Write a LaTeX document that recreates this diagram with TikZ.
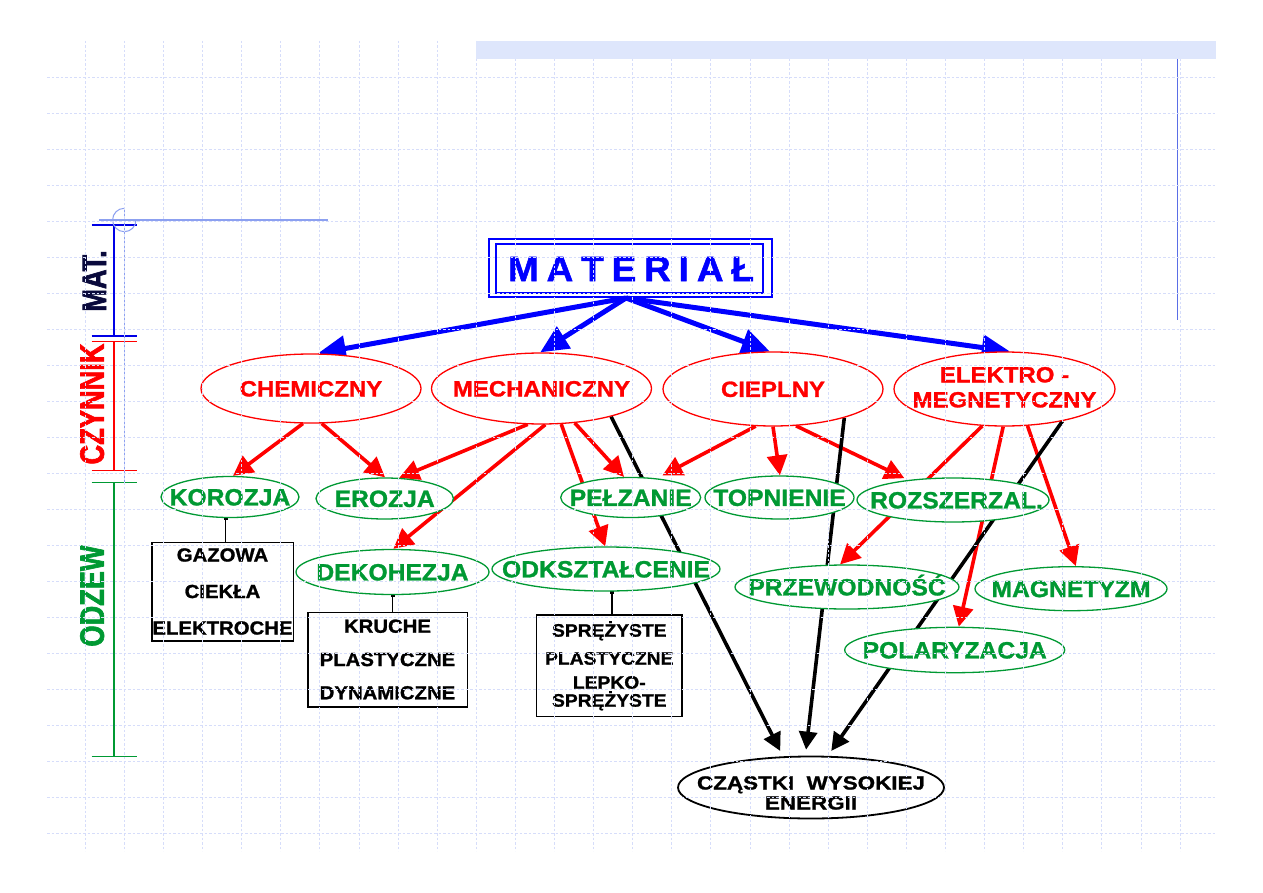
\documentclass[tikz,border=0pt]{standalone}
\usepackage{fontspec}
\setmainfont{Liberation Sans}
\newfontfamily\fRed{Liberation Sans}[FakeStretch=1.09,FakeBold=1.2]
\newfontfamily\fGreen{Liberation Sans}[FakeStretch=1.05,FakeBold=1.2]
\newfontfamily\fBox{Liberation Sans}[FakeStretch=1.07,FakeBold=1.2]
\newfontfamily\fCond{Liberation Sans}[FakeStretch=0.8,FakeBold=1.8]
\newfontfamily\fTitle{Liberation Sans}[FakeStretch=1.05,FakeBold=1.5]
\newfontfamily\fWide{Liberation Sans}[FakeStretch=1.18,FakeBold=1.2]
\usetikzlibrary{arrows.meta,shapes.geometric}
\pgfdeclarelayer{bg}
\pgfdeclarelayer{fg}
\pgfsetlayers{bg,main,fg}
\definecolor{gridc}{RGB}{214,221,250}
\definecolor{bandc}{RGB}{222,230,252}
\definecolor{myred}{RGB}{255,0,0}
\definecolor{mygreen}{RGB}{0,153,51}
\definecolor{myblue}{RGB}{0,0,255}
\definecolor{axblue}{RGB}{0,0,230}
\definecolor{lblue}{RGB}{140,160,240}
\definecolor{rblue}{RGB}{90,110,230}
\definecolor{navy}{RGB}{10,10,60}
\begin{document}
\begin{tikzpicture}[x=1pt,y=-1pt,
  redell/.style={ellipse, draw=myred, line width=1.3pt, fill=white, inner sep=0pt, text=myred,
    font=\fRed\bfseries\fontsize{22}{24}\selectfont, text height=15.75pt, text depth=0pt},
  redtxt/.style={inner sep=0pt, text=myred, font=\fRed\bfseries\fontsize{22}{24}\selectfont, text height=15.75pt, text depth=0pt},
  greenell/.style={ellipse, draw=mygreen, line width=1.3pt, fill=white, inner sep=0pt, text=mygreen,
    font=\fGreen\bfseries\fontsize{23.5}{25}\selectfont, text height=16.8pt, text depth=0pt},
  blkell/.style={ellipse, draw=black, line width=1.8pt, fill=white, inner sep=0pt},
  cztxt/.style={inner sep=0pt, text=black, font=\fWide\bfseries\fontsize{19}{20}\selectfont, text height=13.6pt, text depth=0pt},
  boxn/.style={rectangle, draw=black, line width=1.6pt, inner sep=0pt, align=center,
    font=\fBox\bfseries\fontsize{19}{36.5}\selectfont},
  sidelbl/.style={rotate=90, inner sep=0pt, font=\fCond\bfseries\fontsize{34}{34}\selectfont, text height=24.3pt, text depth=0pt},
  bluearr/.style={draw=myblue, line width=5pt, -{Triangle[length=28pt,width=25pt]}},
  redarr/.style={draw=myred, line width=3.6pt, -{Triangle[length=20pt,width=20pt]}},
  blkarr/.style={draw=black, line width=3.6pt, shorten >=6pt, -{Triangle[length=18pt,width=18pt]}},
  conn/.style={draw=black, line width=1.2pt},
  gridline/.style={draw=gridc, line width=0.9pt, dash pattern=on 2.5pt off 2pt},
  axline/.style={line width=1.5pt}
]
\useasboundingbox (0,0) rectangle (1263,893);

% ---------- title ----------
\node[rectangle, draw=myblue, line width=1.5pt, minimum width=283pt, minimum height=58pt, inner sep=0pt] (mat) at (630.5,268) {};
\node[rectangle, draw=myblue, line width=1.5pt, minimum width=267pt, minimum height=49pt, inner sep=0pt,
  text=myblue, font=\fTitle\bfseries\fontsize{35}{38}\selectfont, text height=25pt, text depth=0pt] (matIn) at (629.5,268.5)
  {\makebox[0pt]{\kern3pt M\kern8pt A\kern8pt T\kern8pt E\kern8pt R\kern8pt I\kern8pt A\kern8pt Ł}};
\coordinate (mo) at (626,298);

% ---------- factors ----------
\node[redell, minimum width=220pt, minimum height=69pt] (chem) at (311,388.5) {\makebox[0pt]{CHEMICZNY}};
\node[redell, minimum width=220pt, minimum height=71pt] (mech) at (541.5,388.5) {\makebox[0pt]{MECHANICZNY}};
\node[redell, minimum width=220pt, minimum height=74pt] (ciep) at (773,389) {\makebox[0pt]{CIEPLNY}};
\node[redell, minimum width=221pt, minimum height=74pt] (elek) at (1004.5,389) {};
\node[redtxt, yshift=14.5pt] (elekA) at (elek) {ELEKTRO -};
\node[redtxt, yshift=-10.5pt] (elekB) at (elek) {MEGNETYCZNY};

% ---------- responses ----------
\node[greenell, minimum width=138pt, minimum height=41pt] (koro) at (230,497) {\makebox[0pt]{KOROZJA}};
\node[greenell, minimum width=137.4pt, minimum height=41pt] (eroz) at (384.7,498.5) {\makebox[0pt]{EROZJA}};
\node[greenell, minimum width=193pt, minimum height=45pt] (deko) at (392.5,572) {\makebox[0pt]{DEKOHEZJA}};
\node[greenell, minimum width=140pt, minimum height=40pt] (pelz) at (630.7,497.5) {\makebox[0pt]{PEŁZANIE}};
\node[greenell, minimum width=228pt, minimum height=44pt] (odks) at (606,569) {\makebox[0pt]{ODKSZTAŁCENIE}};
\node[greenell, minimum width=149pt, minimum height=43pt] (topn) at (779.5,497.5) {\makebox[0pt]{TOPNIENIE}};
\node[greenell, minimum width=192pt, minimum height=44pt] (rozs) at (953,500) {\makebox[0pt]{\kern7pt ROZSZERZAL.}};
\node[greenell, minimum width=224pt, minimum height=44pt] (przew) at (847,587) {\makebox[0pt]{PRZEWODNOŚĆ}};
\node[greenell, minimum width=192pt, minimum height=44pt] (magn) at (1071,588.7) {\makebox[0pt]{MAGNETYZM}};
\node[greenell, minimum width=220pt, minimum height=45.4pt] (pola) at (954.7,650) {\makebox[0pt]{POLARYZACJA}};

\node[blkell, minimum width=266pt, minimum height=62pt] (cz) at (811,787.5) {};
\node[cztxt, yshift=4.8pt] (czA) at (cz) {CZĄSTKI~~WYSOKIEJ};
\node[cztxt, yshift=-15.2pt] (czB) at (cz) {ENERGII};

% ---------- boxes ----------
\node[boxn, minimum width=141.6pt, minimum height=98.4pt] (gbox) at (222.5,591.5) {GAZOWA\\CIEKŁA\\ELEKTROCHE};
\node[boxn, minimum width=159.6pt, minimum height=94.4pt, font=\fBox\bfseries\fontsize{19}{33.3}\selectfont] (kbox) at (387.5,659.5) {KRUCHE\\PLASTYCZNE\\DYNAMICZNE};
\node[boxn, minimum width=145.3pt, minimum height=101.7pt, font=\fBox\bfseries\fontsize{18}{24}\selectfont] (sbox) at (609.3,665.8) {SPRĘŻYSTE\\[4pt]PLASTYCZNE\\LEPKO-\\[-6pt]SPRĘŻYSTE};

% ---------- left axis ----------
\draw[axblue, axline] (114,225) -- (114,336);
\draw[axblue, axline] (91.7,225) -- (136.7,225);
\draw[axblue, axline] (91.7,336) -- (136.7,336);
\draw[myred, axline] (114,341.7) -- (114,470.7);
\draw[myred, axline] (91.7,341.7) -- (136.7,341.7);
\draw[myred, axline] (91.7,470.7) -- (136.7,470.7);
\draw[mygreen, axline] (114,482.7) -- (114,756.7);
\draw[mygreen, axline] (91.7,482.7) -- (136.7,482.7);
\draw[mygreen, axline] (91.7,756.7) -- (136.7,756.7);
\node[sidelbl, text=navy] (labM) at (94,281) {MAT.};
\node[sidelbl, text=myred] (labC) at (91.7,404) {CZYNNIK};
\node[sidelbl, text=mygreen] (labO) at (91.7,596) {ODZEW};

% decorative crosshair
\draw[lblue, line width=2.5pt] (99,220) -- (328,220);
\draw[lblue, line width=1pt] (124.3,208) -- (124.3,482);
\draw[lblue, line width=1pt] (136,220) arc[start angle=0, end angle=270, radius=11.7];
\draw[rblue, line width=1pt] (1177,41) -- (1177,320);

% ---------- connectors (behind nodes) ----------
\begin{pgfonlayer}{bg}
\fill[white] (0,0) rectangle (1263,893);
\draw[bluearr] (mo) -- (chem.79);
\draw[bluearr] (mo) -- (mech.92);
\draw[bluearr] (mo) -- (ciep.95);
\draw[bluearr] (mo) -- (elek.82);

\draw[redarr] (chem.257) -- (koro.82);
\draw[redarr] (chem.287) -- (eroz.89);
\draw[redarr] (mech.249) -- (eroz.55);
\draw[redarr] (mech.276) -- (deko.88);
\draw[redarr] (mech.314) -- (pelz.108);
\draw[redarr] (mech.299) -- (odks.92);
\draw[redarr, shorten >=6pt] (ciep.245) -- (pelz.36);
\draw[redarr] (ciep.270) -- (topn.89);
\draw[redarr, shorten >=4pt] (ciep.302) -- (rozs.156);
\draw[redarr] (elek.239) -- (przew.107);
\draw[redarr] (elek.268) -- (pola.80);
\draw[redarr] (elek.302) -- (magn.78);

\draw[blkarr] (mech.338) -- (cz.132);
\draw[blkarr] (ciep.338) -- (cz.100);
\draw[blkarr] (elek.331) -- (cz.62);

\draw[conn] (koro.258) -- (koro.258 |- gbox.north);
\fill (koro.258) ++(-2,-2) rectangle ++(4,4);
\draw[conn] (deko.south) -- (deko.south |- kbox.north);
\fill (deko.south) ++(-2,-2) rectangle ++(4,4);
\draw[conn] (odks.285) -- (odks.285 |- sbox.north);
\fill (odks.285) ++(-2,-2) rectangle ++(4,4);
\end{pgfonlayer}

% ---------- grid and band (on top) ----------
\begin{pgfonlayer}{fg}
\foreach \k in {0,...,28} \draw[gridline] ({85.3+39.1*\k},41) -- ({85.3+39.1*\k},851);
\foreach \k in {0,...,21} \draw[gridline] (47,{77+36*\k}) -- (1216,{77+36*\k});
\fill[bandc] (476,41) rectangle (1216,59);
\end{pgfonlayer}
\end{tikzpicture}
\end{document}
